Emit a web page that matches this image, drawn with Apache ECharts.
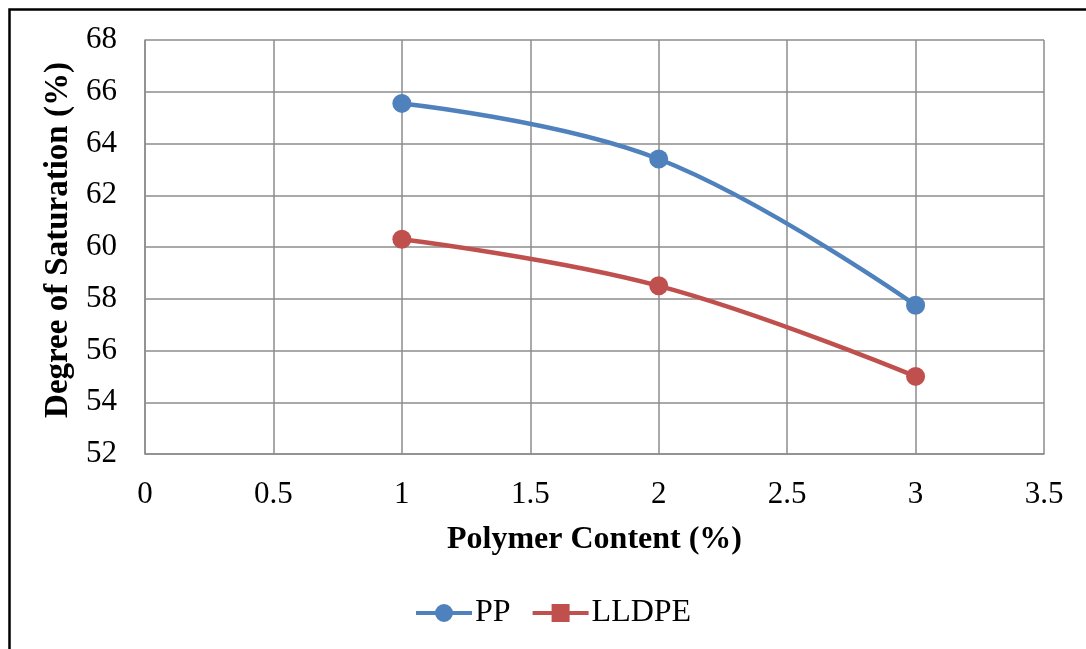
<!DOCTYPE html>
<html>
<head>
<meta charset="utf-8">
<script src="https://cdn.jsdelivr.net/npm/echarts@6/dist/echarts.min.js"></script>
<style>html,body{margin:0;padding:0;background:#fff;}#c{width:1086px;height:649px;}</style>
</head>
<body>
<div id="c"></div>
<script>
const xValues = [1, 2, 3];
const ppValues = [65.55, 63.4, 57.75];
const lldpeValues = [60.3, 58.5, 55.0];
const seriesNames = ['PP', 'LLDPE'];
const xTitle = 'Polymer Content (%)';
const yTitle = 'Degree of Saturation (%)';

const font = '"Liberation Serif", "Times New Roman", serif';
const chart = echarts.init(document.getElementById('c'));
const circleIcon = 'path://M0 7 L56 7 L56 11 L0 11 Z M19 9 A9 9 0 1 1 37 9 A9 9 0 1 1 19 9 Z';
const squareIcon = 'path://M0 7 L56 7 L56 11 L0 11 Z M19 0 L37 0 L37 18 L19 18 Z';
const gridLine = {show: true, lineStyle: {color: '#8c8c8c', width: 1.5}};
chart.setOption({
  animation: false,
  backgroundColor: '#fff',
  graphic: [{
    type: 'rect', left: 7, top: 7, shape: {x: 0, y: 0, width: 1200, height: 800},
    style: {fill: 'none', stroke: '#000', lineWidth: 2.5}, silent: true, z: 100
  }],
  grid: {left: 145, top: 40, right: 42, bottom: 195},
  legend: {
    bottom: 15, left: 411, itemWidth: 56, itemHeight: 18, itemGap: 22,
    textStyle: {fontFamily: font, fontSize: 32, color: '#000', padding: [0, 0, 0, -2]},
    data: [{name: seriesNames[0], icon: circleIcon}, {name: seriesNames[1], icon: squareIcon}]
  },
  xAxis: {
    type: 'value', min: 0, max: 3.5, interval: 0.5,
    name: xTitle, nameLocation: 'middle', nameGap: 70,
    nameTextStyle: {fontFamily: font, fontSize: 32, fontWeight: 'bold', color: '#000'},
    axisLine: {show: true, lineStyle: {color: '#8c8c8c', width: 1.5}},
    axisTick: {show: false},
    axisLabel: {fontFamily: font, fontSize: 31, color: '#000', margin: 25},
    splitLine: gridLine
  },
  yAxis: {
    type: 'value', min: 52, max: 68, interval: 2,
    name: yTitle, nameLocation: 'middle', nameGap: 70, nameMoveOverlap: false,
    nameTextStyle: {fontFamily: font, fontSize: 33, fontWeight: 'bold', color: '#000', padding: [8, 0, 0, 14]},
    axisLine: {show: true, lineStyle: {color: '#8c8c8c', width: 1.5}},
    axisTick: {show: false},
    axisLabel: {fontFamily: font, fontSize: 31, color: '#000', margin: 28},
    splitLine: gridLine
  },
  series: [
    {
      name: seriesNames[0], type: 'line', smooth: 0.4,
      data: xValues.map((x, i) => [x, ppValues[i]]),
      symbol: 'circle', symbolSize: 19,
      lineStyle: {color: '#4F81BD', width: 4.5},
      itemStyle: {color: '#4F81BD'}
    },
    {
      name: seriesNames[1], type: 'line', smooth: 0.4,
      data: xValues.map((x, i) => [x, lldpeValues[i]]),
      symbol: 'circle', symbolSize: 19,
      lineStyle: {color: '#C0504D', width: 4.5},
      itemStyle: {color: '#C0504D'}
    }
  ]
});
</script>
</body>
</html>
